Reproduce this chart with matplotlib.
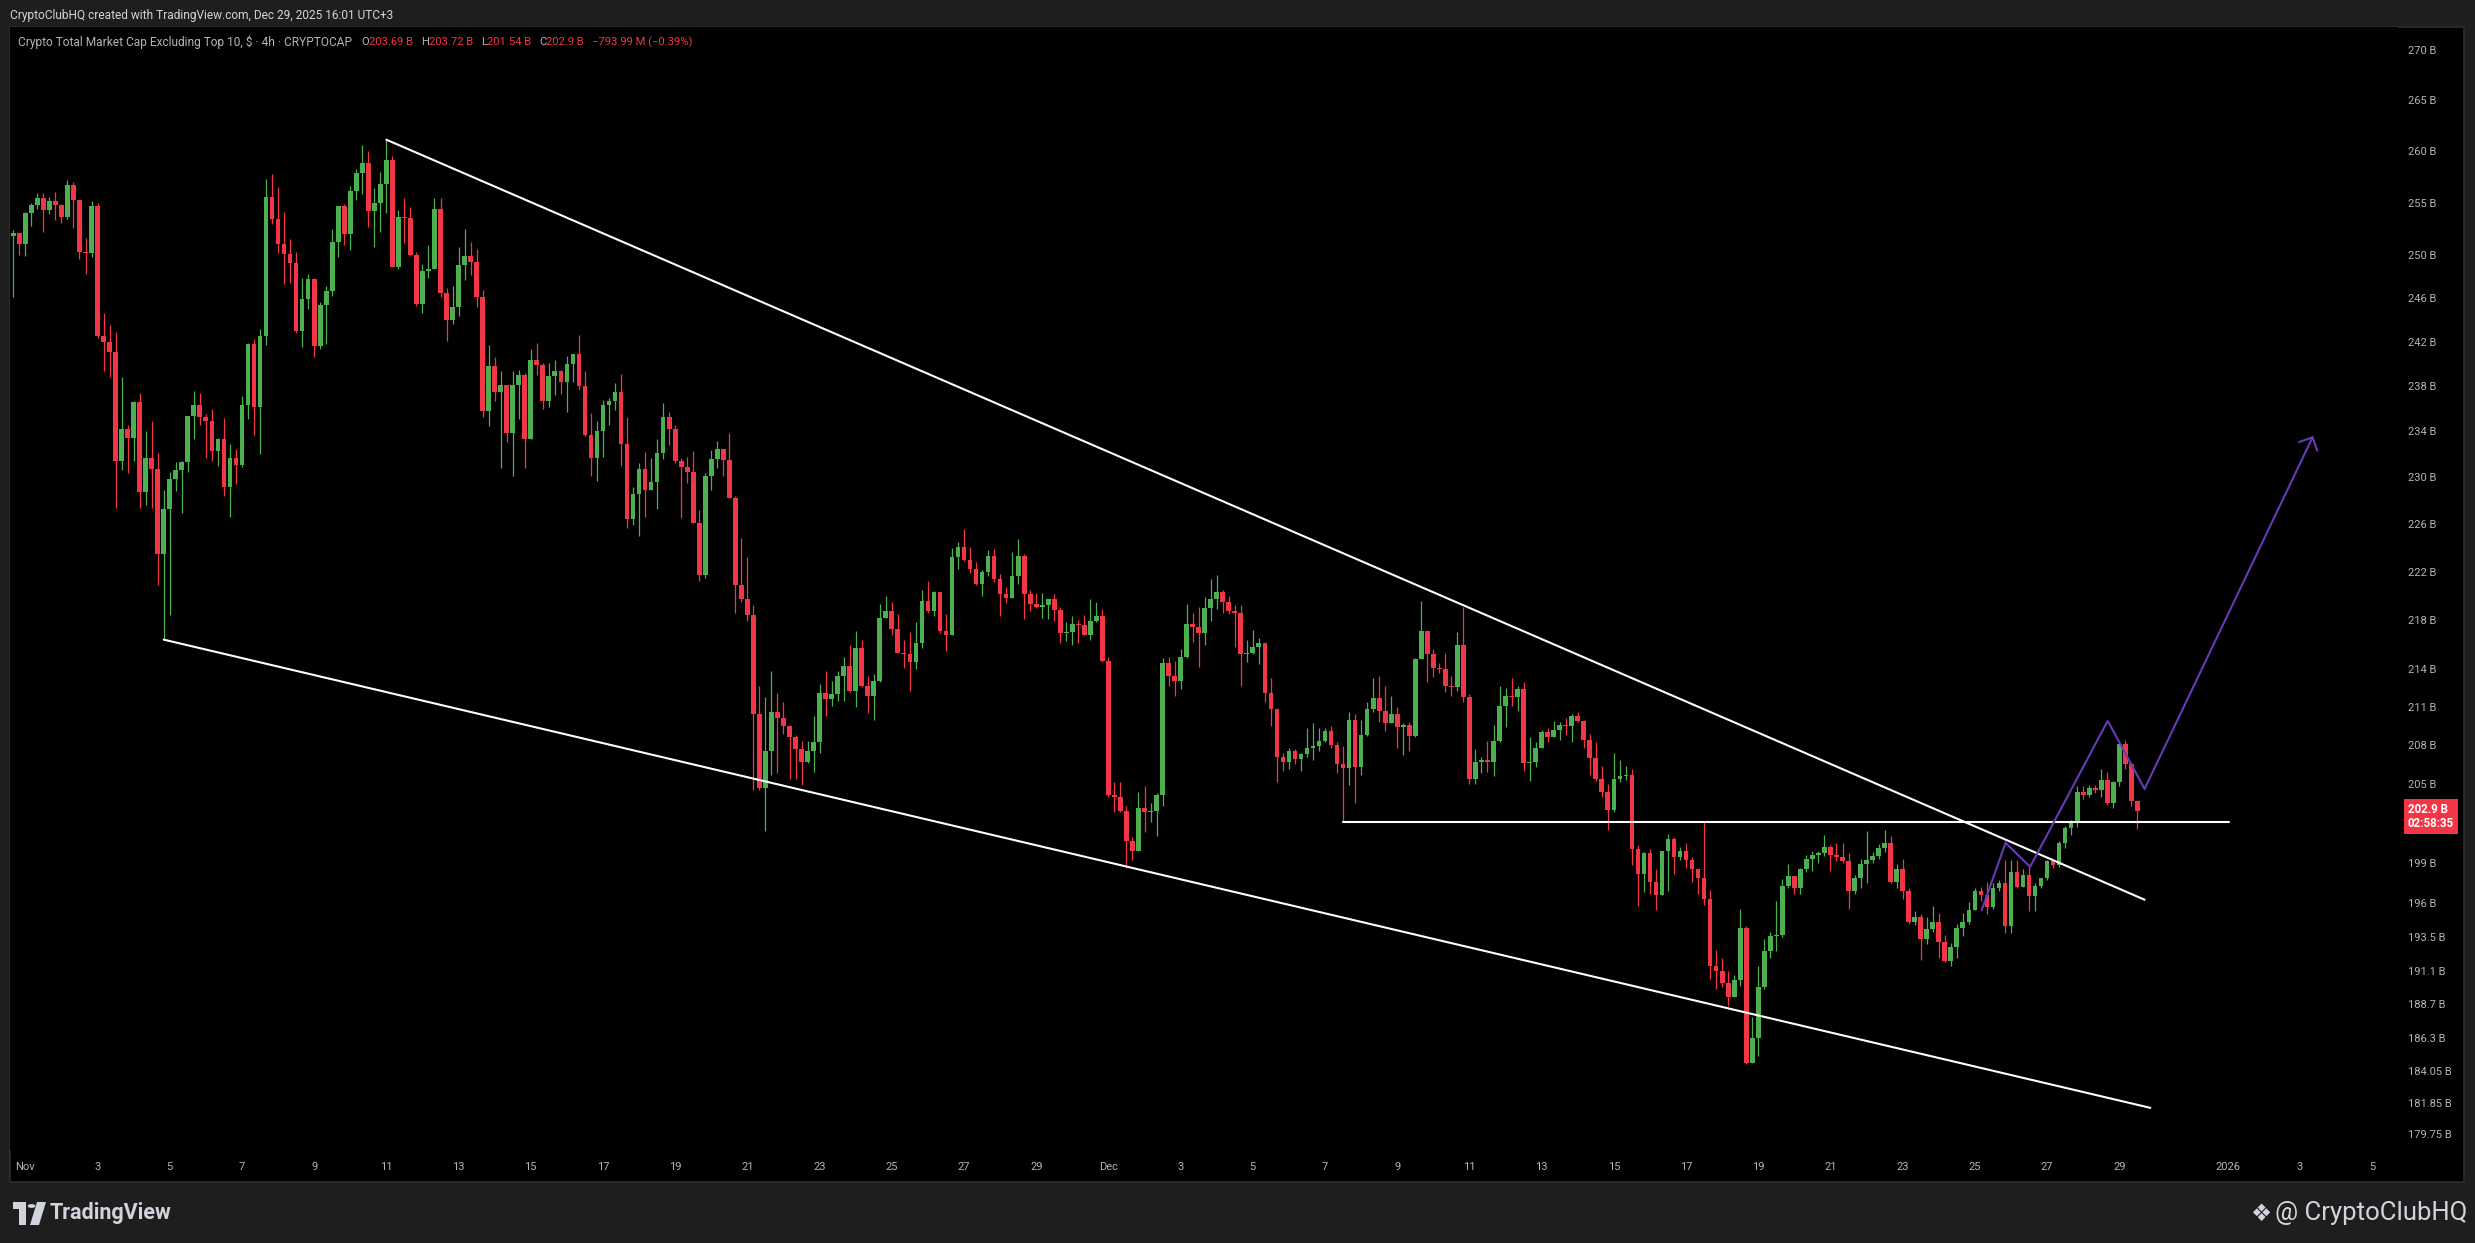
import numpy as np
import pandas as pd
import matplotlib
matplotlib.use('Agg')
from matplotlib import pyplot as plt
from matplotlib.patches import Rectangle, Polygon, Circle
from matplotlib.ticker import NullLocator

plt.rcParams['font.family'] = ['Roboto', 'DejaVu Sans']

#%% candle data (4h, CRYPTOCAP OTHERS excl. top 10, billions USD)
first_bar = '2025-10-31 16:00'
open_first = 251.8
close = [252.1, 251.1, 254.0, 254.8, 255.4, 254.3, 255.2, 254.8, 253.6, 256.7,
         255.3, 250.3, 250.2, 254.7, 242.5, 242.0, 241.1, 231.4, 234.2, 233.4,
         236.6, 228.7, 231.7, 230.7, 223.5, 227.3, 229.9, 230.6, 231.3, 235.4,
         236.3, 235.3, 234.9, 232.3, 233.3, 229.2, 231.7, 231.1, 236.3, 241.8,
         236.2, 242.5, 255.5, 253.4, 251.1, 250.1, 249.3, 243.0, 245.9, 247.8,
         241.6, 245.4, 246.7, 251.3, 254.7, 252.0, 256.1, 257.9, 258.8, 254.2,
         255.0, 256.8, 259.1, 248.9, 253.6, 253.5, 250.0, 245.5, 248.5, 248.7,
         254.4, 246.5, 244.0, 245.2, 249.1, 249.9, 249.4, 246.1, 235.8, 239.8,
         237.5, 238.1, 233.9, 238.1, 239.0, 233.3, 240.4, 239.9, 236.7, 238.9,
         239.4, 238.4, 240.0, 240.9, 238.0, 233.7, 231.7, 234.0, 236.3, 236.7,
         237.5, 232.9, 226.4, 228.6, 230.7, 228.9, 229.6, 232.1, 235.3, 234.2,
         231.4, 230.9, 230.5, 226.1, 221.7, 230.1, 231.6, 232.5, 231.5, 228.2,
         220.9, 219.7, 218.4, 210.4, 204.7, 207.5, 210.6, 210.1, 209.5, 208.6,
         207.7, 206.7, 207.5, 208.2, 212.1, 211.6, 212.0, 213.5, 214.3, 212.3,
         215.7, 212.7, 211.9, 213.1, 218.2, 218.7, 217.3, 215.3, 215.2, 214.6,
         216.1, 219.6, 218.7, 220.3, 217.1, 216.8, 223.2, 224.1, 223.0, 222.2,
         221.0, 222.0, 223.3, 221.4, 220.1, 219.8, 221.6, 223.3, 220.1, 219.3,
         219.1, 219.2, 219.7, 218.8, 216.9, 217.0, 217.7, 217.6, 216.8, 217.9,
         218.3, 214.7, 204.1, 204.0, 202.9, 200.6, 199.9, 203.1, 202.8, 202.9,
         204.1, 214.5, 213.5, 213.1, 215.0, 217.7, 217.4, 216.9, 219.0, 219.7,
         220.3, 219.5, 218.7, 218.6, 215.2, 215.3, 215.8, 216.1, 212.1, 210.8,
         207.1, 206.7, 207.5, 206.9, 207.3, 207.8, 207.9, 208.3, 209.1, 208.0,
         206.5, 206.2, 210.0, 206.3, 208.8, 210.8, 211.7, 210.7, 209.7, 210.4,
         209.4, 209.6, 208.7, 214.8, 217.1, 215.2, 214.1, 214.0, 212.7, 212.6,
         216.0, 211.8, 205.4, 206.7, 206.8, 206.7, 208.3, 211.1, 211.9, 211.8,
         212.4, 206.6, 206.7, 207.8, 209.0, 208.6, 209.2, 209.6, 209.5, 210.3,
         209.9, 208.4, 207.0, 205.4, 204.4, 203.0, 205.4, 205.6, 205.7, 200.0,
         198.2, 199.7, 197.6, 196.6, 199.9, 200.8, 199.4, 199.9, 199.2, 198.5,
         197.9, 196.3, 191.4, 191.1, 190.2, 189.2, 190.4, 194.2, 184.6, 186.3,
         189.9, 192.5, 193.6, 193.7, 197.3, 198.0, 197.1, 198.5, 199.3, 199.6,
         199.7, 200.2, 199.6, 199.4, 199.1, 196.9, 197.9, 198.9, 199.2, 199.5,
         200.1, 200.5, 197.6, 198.5, 196.9, 194.6, 195.0, 193.4, 194.1, 194.6,
         193.2, 191.8, 192.8, 194.2, 194.6, 195.5, 196.9, 196.6, 195.7, 197.1,
         197.5, 194.3, 198.3, 197.2, 198.1, 196.5, 197.3, 197.9, 199.1, 198.8,
         200.5, 201.6, 202.0, 204.4, 204.1, 204.7, 204.5, 205.3, 203.5, 205.1,
         208.1, 206.5, 203.69, 202.9]
high = [252.4, 252.1, 254.1, 255.0, 255.9, 255.9, 255.5, 256.0, 254.9, 257.2,
        257.0, 255.3, 251.6, 255.2, 255.0, 244.6, 243.5, 242.9, 238.8, 234.6,
        236.7, 237.4, 234.0, 234.9, 232.1, 228.9, 230.5, 231.3, 231.4, 235.4,
        237.6, 237.4, 235.5, 236.0, 233.4, 235.2, 232.9, 232.5, 237.1, 241.9,
        242.3, 243.2, 257.3, 257.8, 256.5, 254.1, 251.5, 250.3, 247.9, 248.3,
        247.9, 245.7, 247.1, 252.5, 254.7, 254.9, 256.6, 258.2, 260.6, 260.0,
        256.4, 258.0, 261.1, 259.5, 254.3, 255.4, 254.6, 250.3, 249.2, 251.0,
        255.4, 255.4, 247.0, 247.1, 250.8, 252.5, 251.3, 250.6, 246.8, 241.7,
        240.6, 239.4, 238.1, 239.4, 239.5, 239.2, 241.4, 241.9, 240.1, 240.1,
        240.4, 239.5, 240.7, 240.9, 242.6, 239.4, 235.6, 234.9, 236.8, 237.0,
        238.3, 239.1, 235.3, 229.2, 231.2, 232.2, 231.7, 233.3, 236.5, 235.7,
        234.6, 231.7, 231.8, 232.3, 227.2, 230.4, 232.4, 233.2, 232.5, 233.9,
        228.4, 224.8, 223.2, 219.2, 212.7, 211.8, 213.9, 212.1, 211.4, 209.6,
        208.8, 208.3, 208.3, 210.3, 212.8, 213.9, 213.1, 213.9, 215.0, 216.0,
        217.1, 216.4, 213.5, 213.6, 219.3, 220.0, 219.5, 218.5, 216.4, 217.0,
        217.8, 220.5, 221.2, 220.4, 220.3, 218.5, 224.0, 224.5, 225.6, 224.1,
        222.8, 222.1, 223.8, 223.9, 221.8, 220.7, 223.6, 224.7, 223.5, 220.5,
        220.2, 220.2, 219.7, 220.1, 219.1, 217.8, 218.3, 218.0, 218.4, 219.7,
        219.5, 218.9, 215.0, 205.1, 205.1, 203.3, 200.9, 204.4, 204.8, 203.5,
        204.3, 214.9, 215.0, 214.7, 215.6, 219.3, 218.6, 219.1, 219.9, 221.4,
        221.7, 220.5, 220.0, 219.2, 219.2, 216.4, 217.2, 216.5, 216.1, 213.3,
        210.8, 207.4, 207.8, 207.7, 207.4, 209.3, 209.7, 209.3, 209.3, 209.5,
        208.2, 207.9, 210.6, 210.4, 210.0, 211.4, 213.3, 213.5, 212.7, 211.9,
        211.0, 209.7, 209.8, 214.9, 219.6, 217.1, 215.6, 214.5, 215.3, 213.5,
        217.0, 219.1, 212.0, 207.7, 207.1, 208.3, 209.6, 212.7, 212.5, 213.3,
        212.7, 213.0, 208.6, 208.2, 209.2, 209.3, 209.9, 209.8, 210.1, 210.4,
        210.6, 210.0, 208.9, 208.2, 206.4, 205.0, 207.4, 206.8, 206.4, 206.1,
        200.3, 199.8, 200.0, 198.5, 199.9, 201.2, 200.9, 200.2, 200.5, 199.4,
        198.5, 202.1, 197.0, 192.6, 192.0, 191.1, 190.8, 195.6, 194.3, 187.8,
        191.4, 193.4, 193.9, 196.2, 197.8, 198.9, 198.0, 198.6, 199.6, 199.9,
        199.9, 201.1, 200.3, 200.5, 200.5, 199.7, 198.1, 199.3, 201.4, 199.8,
        200.4, 201.5, 201.0, 198.9, 199.3, 197.1, 195.4, 195.2, 195.0, 195.8,
        195.3, 193.7, 193.1, 194.5, 195.3, 196.1, 197.1, 197.2, 197.6, 197.5,
        197.7, 199.2, 199.2, 199.2, 198.5, 198.7, 197.5, 197.9, 199.2, 199.2,
        200.6, 201.8, 202.2, 204.8, 204.8, 204.9, 204.9, 206.1, 205.9, 205.2,
        208.3, 208.4, 206.7, 203.72]
low = [246.1, 250.0, 249.9, 252.8, 254.4, 252.2, 253.9, 253.3, 253.1, 253.4,
       252.6, 249.7, 248.3, 249.8, 242.4, 239.4, 238.8, 227.4, 230.6, 230.4,
       231.4, 227.4, 227.6, 227.4, 220.9, 216.4, 218.4, 228.8, 226.9, 230.5,
       233.3, 234.6, 231.7, 231.4, 231.0, 228.4, 226.6, 229.4, 230.9, 235.1,
       233.7, 232.0, 241.7, 253.0, 250.2, 247.3, 247.4, 242.8, 241.5, 245.0,
       240.6, 241.4, 241.8, 246.2, 249.8, 251.0, 250.5, 255.3, 255.8, 252.7,
       250.8, 252.2, 254.0, 248.9, 248.7, 251.2, 249.9, 245.3, 244.6, 247.9,
       248.7, 246.1, 242.1, 243.6, 244.4, 247.7, 248.2, 245.2, 235.3, 234.5,
       236.7, 230.8, 233.1, 230.1, 235.1, 230.8, 233.3, 239.0, 236.0, 236.2,
       237.2, 237.3, 235.7, 238.4, 237.7, 233.6, 230.1, 229.7, 231.8, 234.6,
       235.9, 231.0, 225.7, 225.9, 225.0, 226.6, 228.9, 227.3, 231.6, 232.8,
       231.2, 226.5, 229.5, 226.1, 221.2, 221.5, 228.9, 230.8, 230.1, 228.2,
       218.6, 219.5, 217.9, 204.5, 204.5, 201.4, 205.7, 205.8, 208.9, 205.4,
       205.4, 204.9, 206.6, 205.9, 207.4, 210.3, 211.1, 211.5, 211.5, 212.2,
       211.0, 212.6, 210.5, 210.0, 213.0, 218.2, 216.8, 215.3, 214.1, 212.3,
       214.0, 215.7, 218.6, 218.3, 216.9, 215.5, 216.8, 222.2, 222.9, 221.9,
       220.9, 220.0, 221.6, 221.1, 218.3, 219.4, 219.8, 221.0, 218.1, 218.7,
       219.0, 218.2, 218.1, 217.9, 216.1, 216.3, 216.0, 216.1, 216.8, 216.4,
       217.8, 214.6, 204.0, 202.8, 202.8, 198.6, 199.2, 199.9, 201.3, 202.1,
       201.0, 203.3, 212.7, 211.9, 212.4, 214.9, 216.2, 214.2, 216.0, 217.9,
       218.9, 218.6, 218.5, 215.8, 212.7, 214.6, 215.2, 214.4, 211.4, 209.5,
       205.1, 206.0, 206.1, 206.5, 206.0, 207.1, 206.8, 207.5, 208.2, 207.8,
       205.8, 202.1, 204.9, 203.5, 205.7, 208.7, 210.6, 209.8, 209.1, 209.7,
       207.8, 207.2, 207.5, 208.6, 214.8, 213.0, 213.4, 213.7, 212.2, 211.9,
       212.3, 211.4, 205.0, 205.0, 205.8, 205.9, 205.6, 208.2, 209.4, 211.1,
       210.7, 206.0, 205.2, 206.3, 207.8, 208.2, 208.6, 208.4, 208.8, 208.2,
       209.8, 207.8, 205.7, 205.2, 204.0, 201.5, 202.8, 205.1, 205.3, 198.8,
       195.8, 196.8, 196.7, 195.5, 196.6, 196.9, 198.2, 199.2, 198.6, 197.6,
       196.7, 195.9, 190.5, 189.8, 189.9, 188.6, 189.2, 190.0, 184.5, 184.6,
       185.1, 189.8, 192.0, 192.5, 193.5, 197.1, 196.7, 196.7, 198.3, 198.4,
       199.0, 199.5, 198.4, 199.1, 199.0, 195.6, 196.7, 197.1, 197.5, 199.0,
       199.3, 199.8, 197.5, 197.1, 196.3, 194.5, 194.4, 191.9, 193.0, 193.9,
       192.0, 191.7, 191.4, 192.0, 193.6, 194.5, 195.5, 196.2, 195.2, 195.6,
       196.9, 193.8, 193.8, 197.1, 197.2, 195.4, 195.4, 197.1, 197.7, 198.6,
       198.7, 200.1, 201.1, 201.7, 203.8, 204.0, 204.3, 204.0, 203.4, 203.1,
       204.8, 206.1, 203.3, 201.54]

# price scale labels, time scale labels
price_ticks = [270, 265, 260, 255, 250, 246, 242, 238, 234, 230, 226, 222, 218,
               214, 211, 208, 205, 199, 196, 193.5, 191.1, 188.7, 186.3, 184.05,
               181.85, 179.75]
tick_dates = (list(pd.date_range('2025-11-01', '2025-11-29', freq='2D')) +
              list(pd.date_range('2025-12-01', '2025-12-29', freq='2D')) +
              list(pd.date_range('2026-01-01', '2026-01-05', freq='2D')))

# drawings (time, price)
upper_line = [('2025-11-11 00:00', 261.1), ('2025-12-29 16:48', 196.26)]
lower_line = [('2025-11-04 20:00', 216.4), ('2025-12-29 20:40', 181.5)]
level_line = [('2025-12-07 12:00', 202.07), ('2026-01-01 01:12', 202.07)]
path_line = [('2025-12-25 04:34', 195.5), ('2025-12-25 20:24', 200.5),
             ('2025-12-26 12:43', 198.7), ('2025-12-28 16:19', 209.9),
             ('2025-12-29 16:48', 204.6), ('2026-01-03 08:53', 233.6)]

title = 'Crypto Total Market Cap Excluding Top 10, $ \u00b7 4h \u00b7 CRYPTOCAP'
header = 'CryptoClubHQ created with TradingView.com, Dec 29, 2025 16:01 UTC+3'
chg_text = '\u2212793.99 M (\u22120.39%)'
countdown = '02:58:35'

#%% helpers
W, H = 2475, 1243
t0 = pd.Timestamp('2025-11-01')


def days(t):
    return (pd.Timestamp(t) - t0) / pd.Timedelta(days=1)


def fx(x):
    return x / W


def fy(y):
    return 1 - y / H


GREEN = '#4caf50'
RED = '#f23645'
TXT = '#b2b5be'
LIGHT = '#d1d4dc'
PURPLE = '#673ab7'

c = np.array(close)
o = np.concatenate([[open_first], c[:-1]])
hi = np.maximum(np.array(high), np.maximum(o, c))
lo = np.minimum(np.array(low), np.minimum(o, c))
times = pd.date_range(first_bar, periods=len(c), freq='4h')
x = np.array([days(t) for t in times])

#%% figure
fig = plt.figure(figsize=(W / 100, H / 100), dpi=100, facecolor='#1e1e1e')
panel = Rectangle((fx(10), fy(1182)), fx(2464) - fx(10), fy(27) - fy(1182),
                  transform=fig.transFigure, fc='black', ec='#2e2e2e', lw=1.2,
                  zorder=-5)
fig.patches.append(panel)

ax = fig.add_axes([fx(10), fy(1150), (2398 - 10) / W, (1150 - 27) / H], zorder=2)
ax.set_facecolor('black')
for s in ax.spines.values():
    s.set_visible(False)
ax.set_yscale('log')
ax.set_ylim(178.65, 272.39)
ax.set_xlim(-0.4247, 65.72)

up = c >= o
cols = np.where(up, GREEN, RED)
ax.vlines(x, lo, hi, colors=cols, lw=0.9, zorder=2)
body_lo = np.minimum(o, c)
body_h = np.maximum(np.abs(c - o), 0.08)
ax.bar(x, body_h, bottom=body_lo, width=0.13, color=cols, lw=0, zorder=3)

for ln in (upper_line, lower_line, level_line):
    ax.plot([days(t) for t, p in ln], [p for t, p in ln], color='white', lw=1.5,
            solid_capstyle='round', zorder=4)

px_ = [days(t) for t, p in path_line]
py_ = [p for t, p in path_line]
ax.plot(px_[:-1], py_[:-1], color=PURPLE, lw=1.5, solid_joinstyle='miter', zorder=5)
ax.annotate('', xy=(px_[-1], py_[-1]), xytext=(px_[-2], py_[-2]),
            arrowprops=dict(arrowstyle='->,head_length=0.4,head_width=0.4',
                            color=PURPLE, lw=1.5, mutation_scale=18,
                            shrinkA=0, shrinkB=0), zorder=5)

# axes ticks
ax.yaxis.tick_right()
ax.set_yticks(price_ticks)
ax.set_yticklabels([f'{v:g} B' for v in price_ticks])
ax.yaxis.set_minor_locator(NullLocator())
ax.tick_params(axis='y', length=0, pad=7.2, labelsize=8, labelcolor=TXT)

xt = [days(t) for t in tick_dates]
xl = []
for t in tick_dates:
    if t.month == 1 and t.day == 1:
        xl.append(str(t.year))
    elif t.day == 1:
        xl.append(t.strftime('%b'))
    else:
        xl.append(str(t.day))
ax.set_xticks(xt)
ax.set_xticklabels(xl)
ax.xaxis.set_minor_locator(NullLocator())
ax.tick_params(axis='x', length=0, pad=9, labelsize=8, labelcolor=TXT)

# last price label
ax.annotate(f'{c[-1]:g} B\n{countdown}', xy=(1, c[-1]),
            xycoords=ax.get_yaxis_transform(), xytext=(7.2, 6),
            textcoords='offset points', ha='left', va='top', fontsize=8.3,
            fontweight='bold', color='white', linespacing=1.15,
            annotation_clip=False,
            bbox=dict(boxstyle='square,pad=0.35', fc=RED, ec='none'))

#%% header and legend
fig.text(fx(10), fy(15), header, fontsize=8.6, color=LIGHT, va='center')
r = fig.canvas.get_renderer()
pieces = [(title, TXT, 9, 8.6), ('O', TXT, 0, 8.1), (f'{o[-1]:.2f} B', RED, 8, 8.1),
          ('H', TXT, 0, 8.1), (f'{hi[-1]:.2f} B', RED, 8, 8.1),
          ('L', TXT, 0, 8.1), (f'{lo[-1]:.2f} B', RED, 8, 8.1),
          ('C', TXT, 0, 8.1), (f'{c[-1]:g} B', RED, 8, 8.1), (chg_text, RED, 0, 8.1)]
xpos = 18
for s, col, gap, size in pieces:
    t = fig.text(fx(xpos), fy(42), s, fontsize=size, color=col, va='center')
    xpos += t.get_window_extent(renderer=r).width + gap

#%% footer
fig.patches.append(Rectangle((fx(13), fy(1209)), fx(26) - fx(13), fy(1202) - fy(1209),
                             transform=fig.transFigure, fc=LIGHT, ec='none'))
fig.patches.append(Rectangle((fx(19), fy(1225)), fx(26) - fx(19), fy(1209) - fy(1225),
                             transform=fig.transFigure, fc=LIGHT, ec='none'))
fig.patches.append(Circle((fx(31.5), fy(1206)), 3.8 / W, transform=fig.transFigure,
                          fc=LIGHT, ec='none'))
fig.patches.append(Polygon([(fx(37), fy(1202)), (fx(46), fy(1202)), (fx(39), fy(1225)),
                            (fx(30), fy(1225))], closed=True,
                           transform=fig.transFigure, fc=LIGHT, ec='none'))
fig.text(fx(50), fy(1213), 'TradingView', fontsize=15.5, fontweight='bold',
         color=LIGHT, va='center')
fig.text(fx(2261), fy(1214), '\u2756', fontsize=17, color=LIGHT, va='center',
         ha='center', family=['DejaVu Sans'])
fig.text(fx(2467), fy(1213), '@ CryptoClubHQ', fontsize=18.5, color=LIGHT,
         va='center', ha='right')

fig.savefig('out.png', dpi=100, facecolor=fig.get_facecolor())
